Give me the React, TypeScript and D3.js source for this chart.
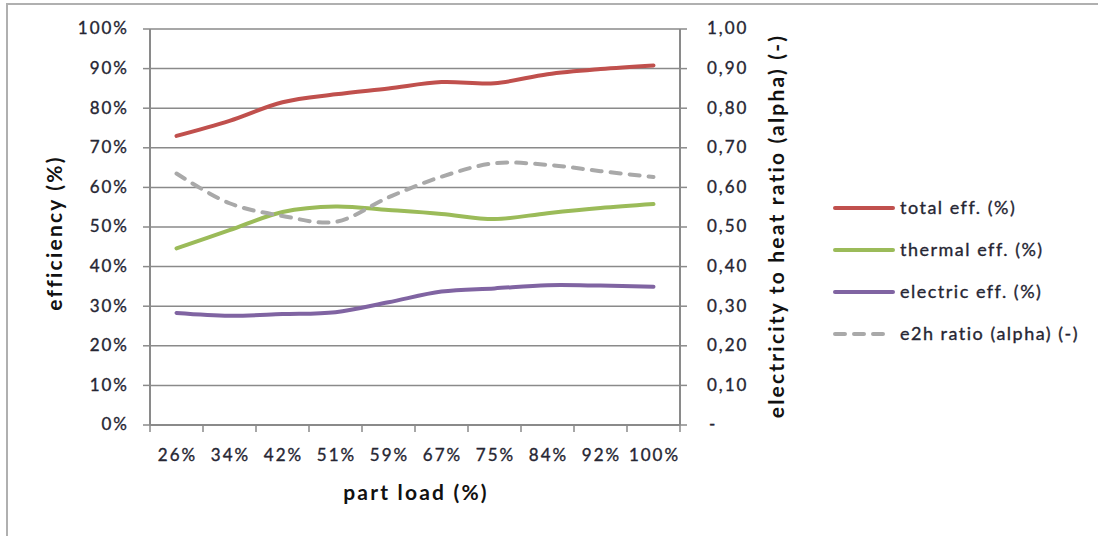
import React from "react";
import * as d3 from "d3";

// Part-load operating points
const partLoad = ["26%", "34%", "42%", "51%", "59%", "67%", "75%", "84%", "92%", "100%"];

// Efficiencies (fraction) and electricity-to-heat ratio
const totalEff = [0.73, 0.768, 0.815, 0.835, 0.85, 0.866, 0.863, 0.886, 0.899, 0.908];
const thermalEff = [0.446, 0.492, 0.538, 0.552, 0.543, 0.533, 0.52, 0.535, 0.548, 0.558];
const electricEff = [0.283, 0.276, 0.28, 0.285, 0.31, 0.337, 0.345, 0.353, 0.352, 0.349];
const e2hRatio = [0.635, 0.56, 0.528, 0.513, 0.575, 0.627, 0.661, 0.657, 0.641, 0.626];

const leftTicks = [0, 0.1, 0.2, 0.3, 0.4, 0.5, 0.6, 0.7, 0.8, 0.9, 1.0];
const rightTicks = [0, 0.1, 0.2, 0.3, 0.4, 0.5, 0.6, 0.7, 0.8, 0.9, 1.0];

const seriesNames = ["total eff. (%)", "thermal eff. (%)", "electric eff. (%)", "e2h ratio (alpha) (-)"];
const seriesColors = ["#C0504D", "#9BBB59", "#8064A2", "#A9A9A9"];

const W = 1098;
const H = 536;
const plot = { left: 150, right: 680, top: 29, bottom: 425 };
const FONT = "Lato, 'Open Sans', sans-serif";
const TEXT = "#262633";
const GRID = "#8a8a8a";

const tickFont = { fontSize: 17, letterSpacing: 2, stroke: TEXT, strokeWidth: 0.35 };
const legendFont = { fontSize: 18, letterSpacing: 1.5, stroke: TEXT, strokeWidth: 0.35 };
const titleFont = { fontSize: 21, letterSpacing: 2.2, fontWeight: "bold" as const };

export default function App() {
  const x = d3.scaleBand<string>().domain(partLoad).range([plot.left, plot.right]);
  const yLeft = d3.scaleLinear().domain([0, 1]).range([plot.bottom, plot.top]);
  const yRight = d3.scaleLinear().domain([0, 1]).range([plot.bottom, plot.top]);
  const cx = (c: string) => (x(c) ?? 0) + x.bandwidth() / 2;

  const lineLeft = d3
    .line<number>()
    .x((_, i) => cx(partLoad[i]))
    .y((d) => yLeft(d))
    .curve(d3.curveCatmullRom.alpha(0.5));
  const lineRight = d3
    .line<number>()
    .x((_, i) => cx(partLoad[i]))
    .y((d) => yRight(d))
    .curve(d3.curveCatmullRom.alpha(0.5));

  const series = [
    { name: seriesNames[0], color: seriesColors[0], values: totalEff, right: false, dash: false },
    { name: seriesNames[1], color: seriesColors[1], values: thermalEff, right: false, dash: false },
    { name: seriesNames[2], color: seriesColors[2], values: electricEff, right: false, dash: false },
    { name: seriesNames[3], color: seriesColors[3], values: e2hRatio, right: true, dash: true },
  ];

  const boundaries = [...partLoad.map((c) => x(c) ?? 0), plot.right];
  const fmtPct = d3.format(".0%");
  const fmtRight = (v: number) => (v === 0 ? "-" : d3.format(".2f")(v).replace(".", ","));

  return (
    <svg
      width={W}
      height={H}
      style={{ position: "absolute", left: 0, top: 0, background: "#fff" }}
      fontFamily={FONT}
    >
      {/* chart frame */}
      <rect x={7} y={4} width={W + 10} height={H + 10} fill="#fff" stroke="#b0b0b0" strokeWidth={2} />

      {/* gridlines */}
      {leftTicks.map((t) => (
        <line key={"g" + t} x1={plot.left} x2={plot.right} y1={yLeft(t)} y2={yLeft(t)} stroke={GRID} strokeWidth={1.5} />
      ))}

      {/* left axis */}
      <line x1={plot.left} x2={plot.left} y1={plot.top} y2={plot.bottom} stroke={GRID} strokeWidth={2} />
      {leftTicks.map((t) => (
        <g key={"l" + t}>
          <line x1={plot.left - 7} x2={plot.left} y1={yLeft(t)} y2={yLeft(t)} stroke={GRID} strokeWidth={1.5} />
          <text x={129} y={yLeft(t) + 1} textAnchor="end" dominantBaseline="middle" fill={TEXT} {...tickFont}>
            {fmtPct(t)}
          </text>
        </g>
      ))}

      {/* right axis */}
      <line x1={plot.right} x2={plot.right} y1={plot.top} y2={plot.bottom} stroke={GRID} strokeWidth={2} />
      {rightTicks.map((t) => (
        <g key={"r" + t}>
          <line x1={plot.right} x2={plot.right + 7} y1={yRight(t)} y2={yRight(t)} stroke={GRID} strokeWidth={1.5} />
          <text
            x={t === 0 ? 709 : 707}
            y={yRight(t) + 1}
            textAnchor="start"
            dominantBaseline="middle"
            fill={TEXT}
            {...tickFont}
          >
            {fmtRight(t)}
          </text>
        </g>
      ))}

      {/* bottom axis */}
      <line x1={plot.left} x2={plot.right} y1={plot.bottom} y2={plot.bottom} stroke={GRID} strokeWidth={2} />
      {boundaries.map((b, i) => (
        <line key={"b" + i} x1={b} x2={b} y1={plot.bottom} y2={plot.bottom + 7} stroke={GRID} strokeWidth={1.5} />
      ))}
      {partLoad.map((c) => (
        <text key={"x" + c} x={cx(c) + 1} y={457} textAnchor="middle" dominantBaseline="middle" fill={TEXT} {...tickFont}>
          {c}
        </text>
      ))}

      {/* series */}
      {series.map((s) => (
        <path
          key={s.name}
          d={(s.right ? lineRight : lineLeft)(s.values) ?? ""}
          fill="none"
          stroke={s.color}
          strokeWidth={4}
          strokeLinecap="round"
          strokeLinejoin="round"
          strokeDasharray={s.dash ? "10 9" : undefined}
        />
      ))}

      {/* axis titles */}
      <text
        transform={`translate(57,233) rotate(-90)`}
        textAnchor="middle"
        dominantBaseline="middle"
        fill="#111"
        {...titleFont}
      >
        efficiency (%)
      </text>
      <text x={416} y={495} textAnchor="middle" dominantBaseline="middle" fill="#111" {...titleFont}>
        part load (%)
      </text>
      <text
        transform={`translate(779,226) rotate(-90)`}
        textAnchor="middle"
        dominantBaseline="middle"
        fill="#111"
        {...titleFont}
      >
        electricity to heat ratio (alpha) (-)
      </text>

      {/* legend */}
      {series.map((s, i) => {
        const ly = 208 + i * 42;
        return (
          <g key={"lg" + s.name}>
            <line
              x1={835}
              x2={s.dash ? 887 : 893}
              y1={ly}
              y2={ly}
              stroke={s.color}
              strokeWidth={4}
              strokeLinecap="round"
              strokeDasharray={s.dash ? "10 9" : undefined}
            />
            <text x={900} y={ly + 1} dominantBaseline="middle" fill={TEXT} {...legendFont}>
              {s.name}
            </text>
          </g>
        );
      })}
    </svg>
  );
}
